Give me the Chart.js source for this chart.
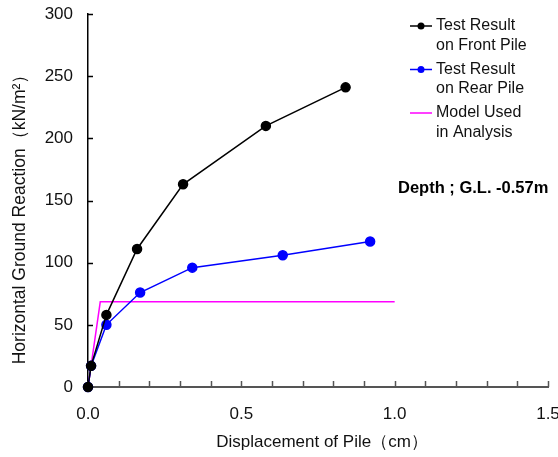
<!DOCTYPE html>
<html>
<head>
<meta charset="utf-8">
<script src="https://cdn.jsdelivr.net/npm/chart.js@4"></script>
<style>
    html, body { margin: 0; padding: 0; background: #fff; }
    #wrap { position: relative; width: 558px; height: 457px; }
</style>
</head>
<body>
<div id="wrap"><canvas id="pile" width="558" height="457"></canvas></div>
<script>
// displacement (cm) / ground reaction (kN/m2)
let frontDisp = [0, 0.01, 0.06, 0.16, 0.31, 0.58, 0.84];
let frontReact = [0, 17, 58, 111, 163, 210, 241];
let rearDisp = [0, 0.01, 0.06, 0.17, 0.34, 0.635, 0.92];
let rearReact = [0, 17, 50, 76, 96, 106, 117];
let modelDisp = [0, 0.04, 1.0];
let modelReact = [0, 68.5, 68.5];

let legendNames = [
    ["Test Result", "on Front Pile"],
    ["Test Result", "on Rear Pile"],
    ["Model Used", "in Analysis"]
];
let xTitle = "Displacement of Pile（cm）";
let yTitle = "Horizontal Ground Reaction（kN/m²）";
let depthNote = "Depth ; G.L. -0.57m";

const font = "'Liberation Sans', Arial, sans-serif";

function toPoints(xs, ys) {
    return xs.map((x, i) => ({x: x, y: ys[i]}));
}

// tick marks pointing into the plot, like the original
const innerTicks = {
    id: 'innerTicks',
    beforeDatasetsDraw(chart) {
        const {ctx, chartArea, scales: {x, y}} = chart;
        ctx.save();
        ctx.lineWidth = 1.5;
        ctx.strokeStyle = "#555";
        x.ticks.forEach(t => {
            let px = Math.round(x.getPixelForValue(t.value)) + 0.5;
            ctx.beginPath();
            ctx.moveTo(px, chartArea.bottom);
            ctx.lineTo(px, chartArea.bottom - 6);
            ctx.stroke();
        });
        ctx.strokeStyle = "#000";
        y.ticks.forEach(t => {
            let py = Math.round(y.getPixelForValue(t.value)) + 0.5;
            ctx.beginPath();
            ctx.moveTo(chartArea.left, py);
            ctx.lineTo(chartArea.left + 5, py);
            ctx.stroke();
        });
        ctx.restore();
    }
};

const sideNotes = {
    id: 'sideNotes',
    afterDraw(chart) {
        const ctx = chart.ctx;
        ctx.save();
        ctx.textBaseline = "middle";
        ctx.textAlign = "center";
        ctx.fillStyle = "#111";

        // axis titles
        ctx.font = "17px " + font;
        ctx.fillText(xTitle, 322, 442);
        ctx.save();
        ctx.translate(20, 215);
        ctx.rotate(-Math.PI / 2);
        ctx.font = "17.5px " + font;
        ctx.fillText(yTitle, 0, 0);
        ctx.restore();

        // legend
        ctx.textAlign = "left";
        ctx.font = "16px " + font;
        chart.data.datasets.forEach((ds, i) => {
            let top = 26 + i * 43.5;
            ctx.strokeStyle = ds.borderColor;
            ctx.lineWidth = 1.5;
            ctx.beginPath();
            ctx.moveTo(410, top);
            ctx.lineTo(432, top);
            ctx.stroke();
            if (ds.pointRadius > 0) {
                ctx.fillStyle = ds.borderColor;
                ctx.beginPath();
                ctx.arc(421, top, 3.5, 0, Math.PI * 2);
                ctx.fill();
            }
            ctx.fillStyle = "#111";
            ctx.fillText(legendNames[i][0], 436, top);
            ctx.fillText(legendNames[i][1], 436, top + 19.5);
        });

        ctx.font = "bold 16.5px " + font;
        ctx.fillStyle = "#000";
        ctx.fillText(depthNote, 398, 188);
        ctx.restore();
    }
};

new Chart(document.getElementById("pile").getContext('2d'), {
    type: 'scatter',
    data: {
        datasets: [
            {
                label: "Test Result on Front Pile",
                data: toPoints(frontDisp, frontReact),
                showLine: true,
                borderColor: "#000000",
                backgroundColor: "#000000",
                borderWidth: 1.5,
                pointRadius: 4.5,
                clip: false,
            },
            {
                label: "Test Result on Rear Pile",
                data: toPoints(rearDisp, rearReact),
                showLine: true,
                borderColor: "#0000ff",
                backgroundColor: "#0000ff",
                borderWidth: 1.5,
                pointRadius: 4.5,
                clip: false,
            },
            {
                label: "Model Used in Analysis",
                data: toPoints(modelDisp, modelReact),
                showLine: true,
                borderColor: "#ff00ff",
                backgroundColor: "#ff00ff",
                borderWidth: 1.5,
                pointRadius: 0,
                clip: false,
                order: 3,
            }
        ]
    },
    options: {
        animation: false,
        responsive: false,
        layout: {
            padding: {top: 14, right: 10, left: 0, bottom: 0}
        },
        scales: {
            x: {
                min: 0,
                max: 1.5,
                afterFit: function (scale) {
                    scale.height = 70;
                    scale.paddingLeft = 0;
                    scale.paddingRight = 0;
                },
                border: {color: "#555", width: 2},
                grid: {display: true, drawOnChartArea: false, drawTicks: false},
                ticks: {
                    stepSize: 0.1,
                    autoSkip: false,
                    maxRotation: 0,
                    padding: 17,
                    color: "#111",
                    font: {family: font, size: 17},
                    callback: function (v) {
                        return Math.abs(v * 2 - Math.round(v * 2)) < 1e-6 ? v.toFixed(1) : "";
                    }
                }
            },
            y: {
                min: 0,
                max: 300,
                afterFit: function (scale) {
                    scale.width = 88;
                    scale.paddingTop = 0;
                    scale.paddingBottom = 0;
                },
                border: {color: "#000", width: 1.5},
                grid: {display: true, drawOnChartArea: false, drawTicks: false},
                ticks: {
                    stepSize: 50,
                    padding: 15,
                    color: "#111",
                    font: {family: font, size: 17}
                }
            }
        },
        plugins: {
            legend: {display: false},
            tooltip: {enabled: false}
        }
    },
    plugins: [innerTicks, sideNotes]
});
</script>
</body>
</html>
